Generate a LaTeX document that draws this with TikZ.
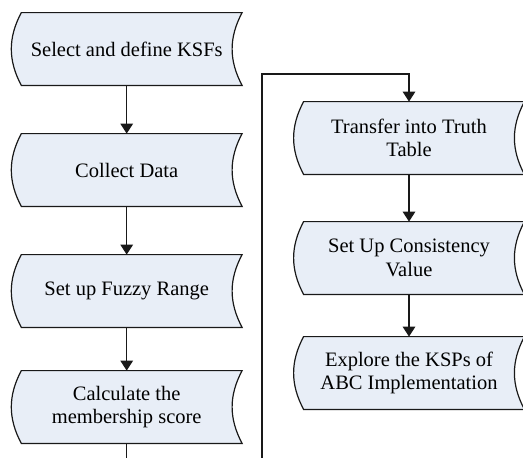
\documentclass[tikz,border=0pt]{standalone}
\usepackage{fontspec}
\setmainfont{Liberation Serif}
\usepackage{tikz}
\usetikzlibrary{arrows.meta, backgrounds}
\definecolor{boxfill}{RGB}{232,238,247}
\definecolor{boxline}{RGB}{25,25,25}
\tikzset{
  kstep/.style={rectangle, draw=none, minimum width=110pt,
    minimum height=36pt, inner sep=0pt, align=center,
    font=\fontsize{10.25}{11.8}\selectfont},
  outline/.style={draw=boxline, fill=boxfill, line width=0.6pt},
  arrow/.style={-{Triangle[length=5pt,width=6.3pt]}, line width=0.6pt,
    color=boxline}
}

\begin{document}
\begin{tikzpicture}[x=0.5pt, y=0.5pt]

  % ── Frame: the flow continues beyond the lower edge ───────────────────────
  \useasboundingbox (0,0) rectangle (523,-457);
  \clip (0,0) rectangle (523,-457);

  % ── Left column: x=126.7, rows 120 apart ──────────────────────────────────
  \node[kstep] (sel) at (126.7, -49)  {Select and define KSFs};
  \node[kstep] (col) at (126.7, -170) {Collect Data};
  \node[kstep] (fuz) at (126.7, -291) {Set up Fuzzy Range};
  \node[kstep] (mem) at (126.7, -407) {Calculate the\\membership score};

  % ── Right column: x=409 ───────────────────────────────────────────────────
  \node[kstep] (tru) at (409, -138) {Transfer into Truth\\Table};
  \node[kstep] (con) at (409, -258) {Set Up Consistency\\Value};
  \node[kstep] (exp) at (409, -373) {Explore the KSPs of\\ABC Implementation};

  % ── Stored-data outlines: bulging left side, hollow right side ────────────
  \begin{scope}[on background layer]
    \foreach \n in {sel,col,fuz,mem,tru,con,exp}
      \draw[outline] ([xshift=2.5pt]\n.north west) -- ([xshift=2.5pt]\n.north east)
        to[bend right=28] ([xshift=2.5pt]\n.south east)
        -- ([xshift=2.5pt]\n.south west)
        to[bend left=28] ([xshift=2.5pt]\n.north west) -- cycle;
  \end{scope}

  % ── Connections — left column ─────────────────────────────────────────────
  \draw[arrow] (sel) -- (col);
  \draw[arrow] (col) -- (fuz);
  \draw[arrow] (fuz) -- (mem);

  % ── Loop over to the right column ─────────────────────────────────────────
  \coordinate (lowturn)  at (262, -475);
  \coordinate (highturn) at (262, -74);
  \draw[arrow] (mem.south) |- (lowturn) -- (highturn) -| (tru.north);

  % ── Connections — right column ────────────────────────────────────────────
  \draw[arrow] (tru) -- (con);
  \draw[arrow] (con) -- (exp);

\end{tikzpicture}
\end{document}
